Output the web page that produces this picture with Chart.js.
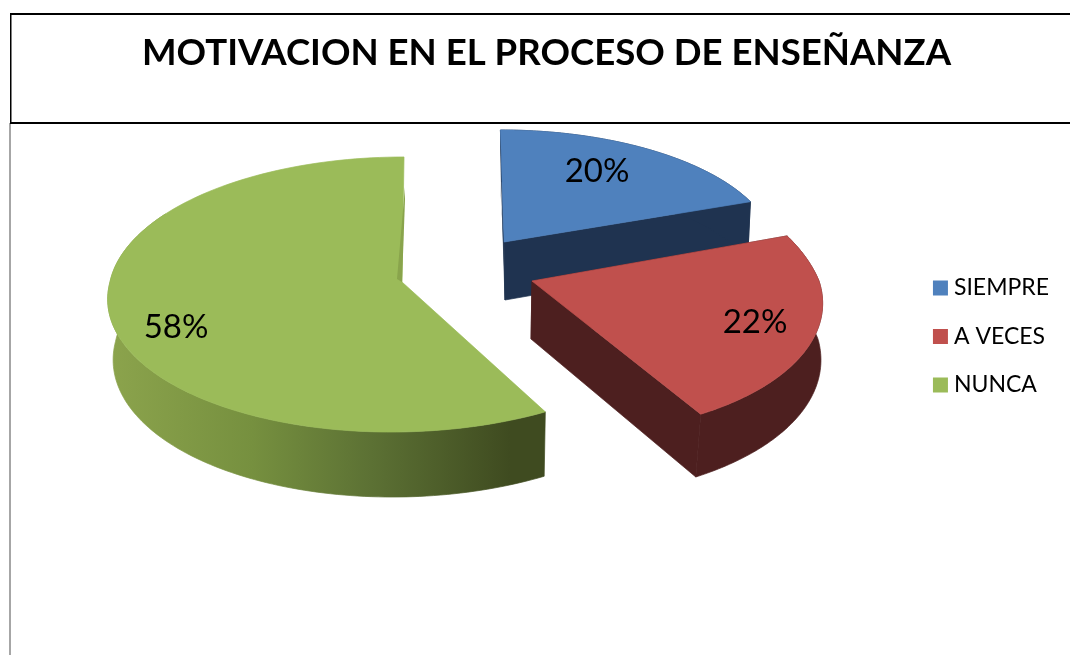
<!DOCTYPE html>
<html><head><meta charset="utf-8">
<style>html,body{margin:0;padding:0;background:#fff}#w{width:1070px;height:655px}</style>
<script src="https://cdn.jsdelivr.net/npm/chart.js@4/dist/chart.umd.min.js"></script>
</head><body><div id="w"><canvas id="c" width="1070" height="655"></canvas></div>
<script>
const chartTitle = 'MOTIVACION EN EL PROCESO DE ENSEÑANZA';
const categories = ['SIEMPRE', 'A VECES', 'NUNCA'];
const percentages = [20, 22, 58];
const topColors = ['#4f81bd', '#c0504d', '#9bbb59'];

// Perspective look of each exploded slice (styling, not data)
const looks = [
 {ax:504,ay:242,R:270,a:119.5,an:119.5,b:.0667,kn:3.8,kp:0,f:.985,dx:1,g:0,d0:58,d1:6,wall:'#1f3350',lx:597,ly:171,adjEnd:-2.2*Math.PI/180,cut:true,wallEnd:1},
 {ax:532,ay:281,R:287,a:140,an:150,b:.09,kn:35,kp:19.6,f:1,dx:-1,g:-4.5,d0:58,d1:5.5,wall:'#4d1f1f',lx:755,ly:322,adjEnd:0,cut:true,wallEnd:1},
 {ax:402,ay:282,R:292,a:136.4,an:136.4,b:.0909,kn:-2.2,kp:-10,f:.985,dx:1,g:0,d0:60,d1:5,wall:null,lx:176,ly:327,adjEnd:0,cut:false,wallEnd:.72}
];
const drawOrder = [0, 2, 1];

function pt(L, th, bottom) {
  const s = Math.sin(th), c = -Math.cos(th);
  const den = 1 - L.b * c;
  const k = c > 0 ? L.kp * c : L.kn * c;
  const X = (L.R * s + k) / den, Y = (c > 0 ? L.a : L.an) * c / den;
  if (!bottom) return [L.ax + X, L.ay + Y];
  return [L.ax + X * L.f + L.dx + L.g * Math.max(c, 0), L.ay + Y + L.d0 + L.d1 * c];
}
function apex(L, bottom) { return bottom ? [L.ax + L.dx, L.ay + L.d0] : [L.ax, L.ay]; }
function poly(ctx, pts, fill, seal) {
  ctx.beginPath();
  pts.forEach((p, i) => i ? ctx.lineTo(p[0], p[1]) : ctx.moveTo(p[0], p[1]));
  ctx.closePath(); ctx.fillStyle = fill; ctx.fill();
  if (seal) { ctx.strokeStyle = fill; ctx.lineWidth = .7; ctx.lineJoin = 'round'; ctx.stroke(); }
}
function arcPts(L, t0, t1, bottom) {
  const out = [], n = 120;
  for (let i = 0; i <= n; i++) out.push(pt(L, t0 + (t1 - t0) * i / n, bottom));
  return out;
}
const pie3d = {
  id: 'pie3d',
  beforeDraw(chart) {
    const ctx = chart.ctx;
    ctx.save();
    ctx.fillStyle = '#fff'; ctx.fillRect(0, 0, chart.width, chart.height);
    ctx.fillStyle = '#a6a6a6'; ctx.fillRect(9, 123, 2, 532);
    ctx.fillStyle = '#000';
    ctx.fillRect(10, 13, 1060, 2);
    ctx.fillRect(10, 122, 1060, 2);
    ctx.fillRect(10, 13, 1.5, 110);
    ctx.restore();
  },
  beforeDatasetsDraw(chart) {
    const ctx = chart.ctx, arcs = chart.getDatasetMeta(0).data;
    ctx.save();
    drawOrder.forEach(i => {
      const L = looks[i], e = arcs[i];
      const t0 = e.startAngle + Math.PI / 2, t1 = e.endAngle + Math.PI / 2 + L.adjEnd;
      const tw = t0 + (t1 - t0) * L.wallEnd;
      const top = arcPts(L, t0, t1, false);
      const wallTop = arcPts(L, t0, tw, false), bot = arcPts(L, t0, tw, true);
      let wall = L.wall;
      if (!wall) {
        const g = ctx.createLinearGradient(113, 0, 510, 0);
        g.addColorStop(0, '#8ba34c'); g.addColorStop(.35, '#76903f');
        g.addColorStop(.65, '#5c7134'); g.addColorStop(1, '#3f4b20');
        wall = g;
      }
      // cut faces and rounded wall
      if (L.cut) {
        poly(ctx, [apex(L,false), pt(L,t0,false), pt(L,t0,true), apex(L,true)], wall, true);
        poly(ctx, [apex(L,false), pt(L,t1,false), pt(L,t1,true), apex(L,true)], wall, true);
      }
      poly(ctx, wallTop.concat(bot.slice().reverse()), wall, true);
      // top face
      poly(ctx, [apex(L,false)].concat(top), topColors[i], true);
    });
    // thin inner cut edges
    poly(ctx, [[405,187],[405,200],[402,282],[397,279]], '#89a44c');
    poly(ctx, [[500,172],[501,200],[504,242],[503,242]], '#2c4a70');
    // value labels
    ctx.fillStyle = '#000'; ctx.textAlign = 'center'; ctx.textBaseline = 'middle';
    ctx.font = '33px Lato';
    percentages.forEach((v, i) => ctx.fillText(v + '%', looks[i].lx, looks[i].ly));
    ctx.restore();
    return false;
  }
};
new Chart(document.getElementById('c'), {
  type: 'pie',
  plugins: [pie3d],
  data: { labels: categories, datasets: [{ data: percentages, backgroundColor: topColors, borderWidth: 0 }] },
  options: {
    responsive: false, animation: false, rotation: 0,
    layout: { padding: { left: 34, right: 11, top: 0, bottom: -18 } },
    plugins: {
      tooltip: { enabled: false },
      title: { display: true, text: chartTitle, color: '#000', align: 'center',
               font: { family: 'Lato', size: 36.6, weight: 'bold' }, padding: { top: 31, bottom: 56 } },
      legend: { position: 'right',
        labels: { color: '#000', font: { family: 'Lato', size: 23 }, usePointStyle: true, pointStyle: 'rect',
                  boxWidth: 4, boxHeight: 15, padding: 25.5 } }
    }
  }
});
</script></body></html>
